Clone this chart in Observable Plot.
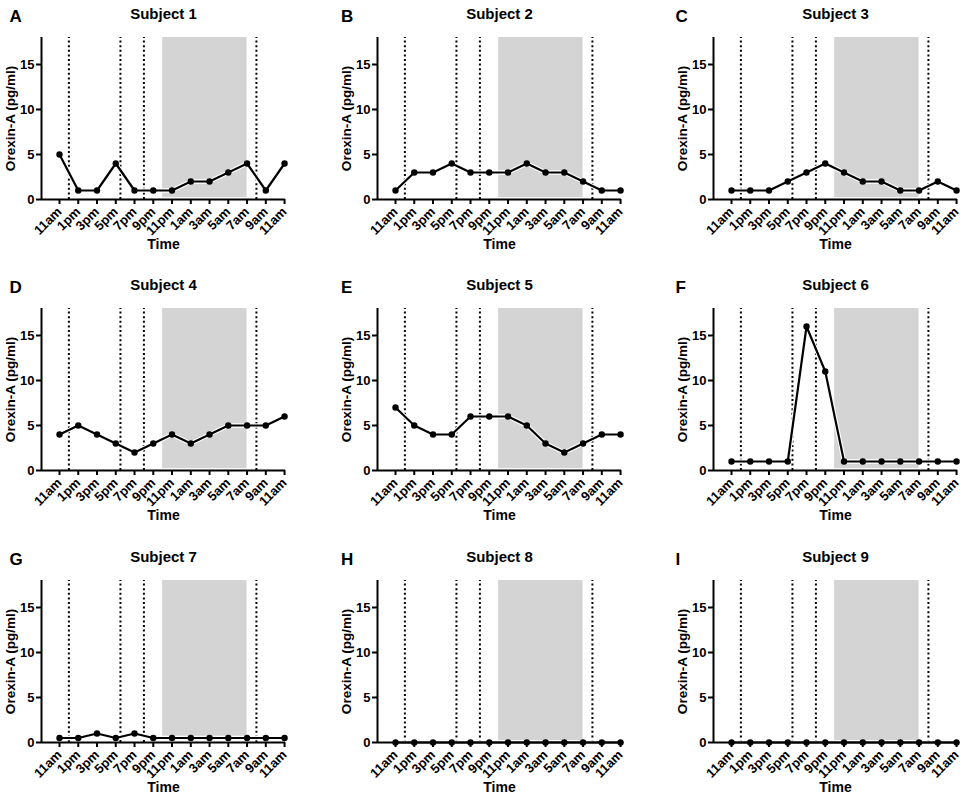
<!DOCTYPE html>
<html>
<head>
<meta charset="utf-8">
<script src="https://cdn.jsdelivr.net/npm/d3@7"></script>
<script src="https://cdn.jsdelivr.net/npm/@observablehq/plot@0.6"></script>
<style>
  html, body { margin: 0; padding: 0; background: #fff; }
  #root { position: relative; width: 963px; height: 795px; overflow: hidden; }
  .panel { position: absolute; }
  .panel svg text { font-weight: bold; }
  .panel svg [aria-label="x-axis tick label"] { font-size: 13px; }
  .panel svg [aria-label="y-axis tick label"] { font-size: 13px; }
</style>
</head>
<body>
<div id="root"></div>
<script>
// ---- data ----
const timeLabels = ["11am","1pm","3pm","5pm","7pm","9pm","11pm","1am","3am","5am","7am","9am","11am"];
const panelLetters = ["A","B","C","D","E","F","G","H","I"];
const subjectTitles = ["Subject 1","Subject 2","Subject 3","Subject 4","Subject 5","Subject 6","Subject 7","Subject 8","Subject 9"];
const subject1 = [5,1,1,4,1,1,1,2,2,3,4,1,4];
const subject2 = [1,3,3,4,3,3,3,4,3,3,2,1,1];
const subject3 = [1,1,1,2,3,4,3,2,2,1,1,2,1];
const subject4 = [4,5,4,3,2,3,4,3,4,5,5,5,6];
const subject5 = [7,5,4,4,6,6,6,5,3,2,3,4,4];
const subject6 = [1,1,1,1,16,11,1,1,1,1,1,1,1];
const subject7 = [0.5,0.5,1,0.5,1,0.5,0.5,0.5,0.5,0.5,0.5,0.5,0.5];
const subject8 = [0,0,0,0,0,0,0,0,0,0,0,0,0];
const subject9 = [0,0,0,0,0,0,0,0,0,0,0,0,0];
const allSubjects = [subject1,subject2,subject3,subject4,subject5,subject6,subject7,subject8,subject9];
// dotted reference lines (positions in sampling-index units) and dark period
const dottedMarkers = [0.5, 3.25, 4.5, 10.5];
const darkPeriod = [{x1: 5.5, x2: 10, y1: 0.2, y2: 18}];
const yTicks = [0, 5, 10, 15];
const xDomain = [-0.96, 12.05];
const yDomain = [0, 18];

// ---- layout ----
const colLeft = [0, 336, 672];
const rowTop = [0, 271, 543];
const letterX = [9, 4.5, 3];
const FONT = "'Liberation Sans', Arimo, Arial, Helvetica, sans-serif";

const root = document.getElementById("root");

allSubjects.forEach((values, k) => {
  const col = k % 3, row = Math.floor(k / 3);
  const data = values.map((v, i) => ({i, v}));
  const chart = Plot.plot({
    width: 290,
    height: 259,
    marginLeft: 41,
    marginRight: 5,
    marginTop: 37,
    marginBottom: 60,
    style: {fontFamily: FONT, fontSize: "12px", background: "white", overflow: "visible", color: "black"},
    x: {type: "linear", domain: xDomain, axis: null},
    y: {domain: yDomain, axis: null},
    marks: [
      Plot.rect(darkPeriod, {x1: "x1", x2: "x2", y1: "y1", y2: "y2", fill: "#d4d4d4"}),
      Plot.ruleX(dottedMarkers, {y1: yDomain[0], y2: yDomain[1], stroke: "black", strokeWidth: 2, strokeDasharray: "2,2.6"}),
      Plot.line(data, {x: "i", y: "v", stroke: "white", strokeWidth: 4.5}),
      Plot.line(data, {x: "i", y: "v", stroke: "black", strokeWidth: 2.2}),
      Plot.dot(data, {x: "i", y: "v", r: 3.2, fill: "black", stroke: "none"}),
      Plot.ruleX([xDomain[0]], {y1: yDomain[0], y2: yDomain[1], stroke: "black", strokeWidth: 2}),
      Plot.ruleY([yDomain[0]], {stroke: "black", strokeWidth: 2}),
      Plot.axisY({ticks: yTicks, tickSize: 5, tickPadding: 2, strokeWidth: 2, fontSize: 13, label: null}),
      Plot.axisX({ticks: d3.range(timeLabels.length), tickFormat: i => timeLabels[i], tickRotate: -45, tickSize: 5, tickPadding: 5, strokeWidth: 2, fontSize: 13, label: null}),
      Plot.text(["Orexin-A (pg/ml)"], {frameAnchor: "left", dx: -31, rotate: -90, fontSize: 13.5, fill: "black", textAnchor: "middle", lineAnchor: "middle"}),
      Plot.text(["Time"], {frameAnchor: "bottom", dy: 49, fontSize: 14, fill: "black", lineAnchor: "bottom"}),
      Plot.text([subjectTitles[k]], {frameAnchor: "top", dy: -29, fontSize: 15, fill: "black", lineAnchor: "top"}),
      Plot.text([panelLetters[k]], {frameAnchor: "top-left", dx: letterX[col] - 41, dy: -27.5, fontSize: 17, fill: "black", textAnchor: "start", lineAnchor: "top"})
    ]
  });
  const div = document.createElement("div");
  div.className = "panel";
  div.style.left = colLeft[col] + "px";
  div.style.top = rowTop[row] + "px";
  div.appendChild(chart);
  root.appendChild(div);
});
</script>
</body>
</html>
